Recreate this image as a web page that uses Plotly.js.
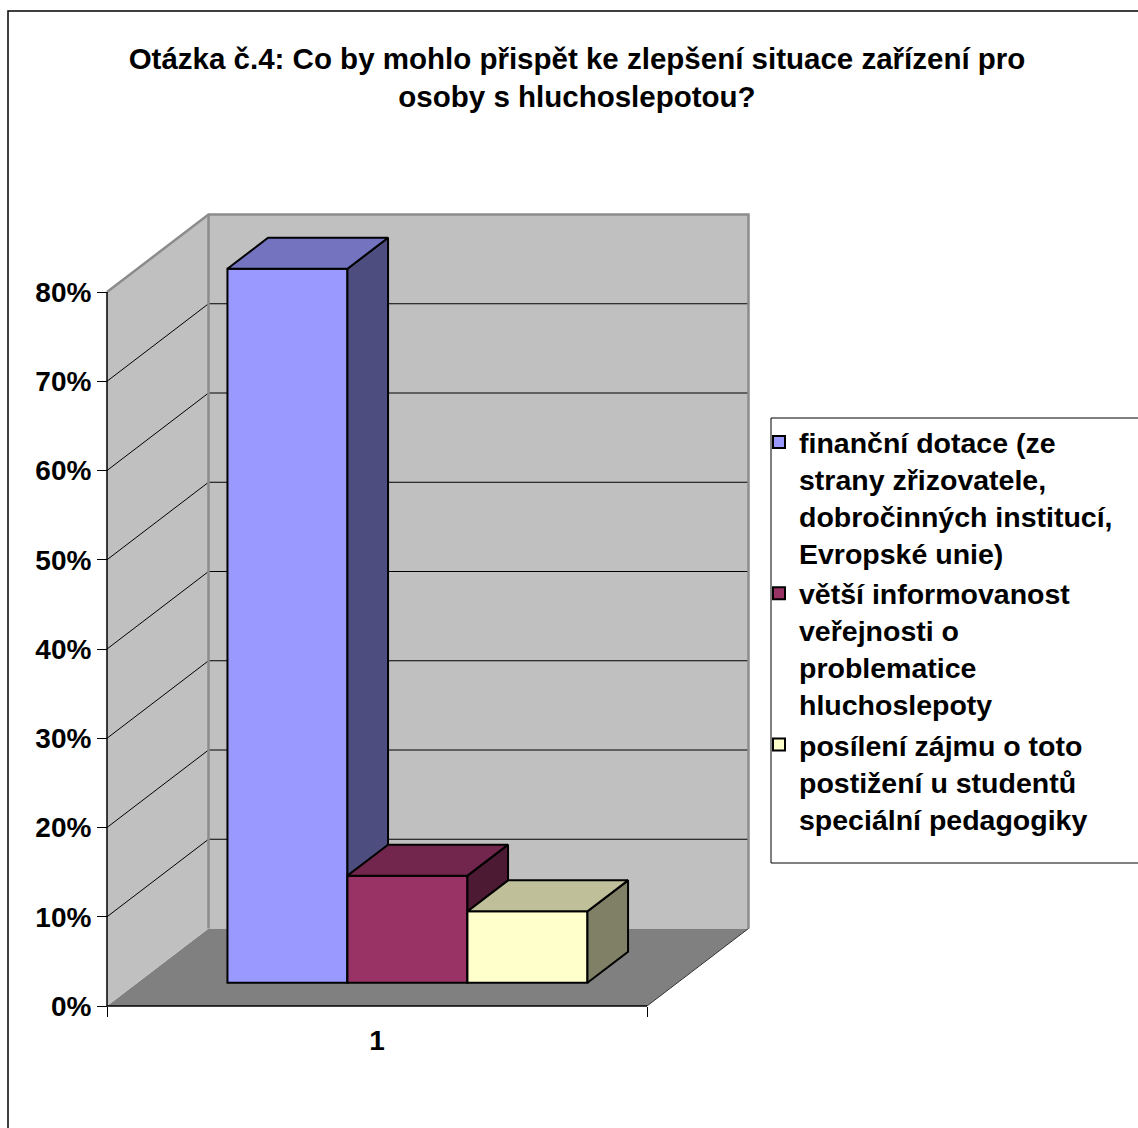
<!DOCTYPE html>
<html>
<head>
<meta charset="utf-8">
<script src="https://cdn.plot.ly/plotly-3.0.1.min.js"></script>
<style>
  html, body { margin: 0; padding: 0; background: #fff; }
  #chart { width: 1138px; height: 1128px; }
</style>
</head>
<body>
<div id="chart"></div>
<script>
// ---------- DATA ----------
const categories = ['1'];
const seriesNames = [
  'finanční dotace (ze<br>strany zřizovatele,<br>dobročinných institucí,<br>Evropské unie)',
  'větší informovanost<br>veřejnosti o<br>problematice<br>hluchoslepoty',
  'posílení zájmu o toto<br>postižení u studentů<br>speciální pedagogiky'
];
const seriesValues = [80, 12, 8];           // percent
const yTickVals = [0, 10, 20, 30, 40, 50, 60, 70, 80];
const yTickText = ['0%', '10%', '20%', '30%', '40%', '50%', '60%', '70%', '80%'];
const wallTop = 80;
const titleText = 'Otázka č.4: Co by mohlo přispět ke zlepšení situace zařízení pro<br>osoby s hluchoslepotou?';

// ---------- STYLE ----------
const frontColors = ['#9999FF', '#993366', '#FFFFCC'];
const topColors   = ['#7373BF', '#73264D', '#BFBF99'];
const sideColors  = ['#4D4D80', '#4D1A33', '#808066'];
const FONT = 'Arial, "Liberation Sans", sans-serif';

// ---------- PROJECTION (oblique 3D) ----------
const W = 1138, H = 1128;
const xLeftPx = 107, xRightPx = 647;      // category band on front plane
const y0Px = 1006, y80Px = 292;
const pxPerCat = xRightPx - xLeftPx;
const pxPerPct = (y0Px - y80Px) / 80;
const xRange = [0.5 - xLeftPx / pxPerCat, 0.5 + (W - xLeftPx) / pxPerCat];
const yRange = [-(H - y0Px) / pxPerPct, y0Px / pxPerPct];
const DX = 101.5 / pxPerCat;   // full depth, x (category units)
const DY = 77.5 / pxPerPct;    // full depth, y (percent units)
const nSeries = seriesValues.length;
const barW = 1 / (nSeries + 1.5);          // gap width 150%
const depthFront = 0.3, depthBack = 0.7;   // bar placement in depth

const traces = [];
const noHover = { hoverinfo: 'skip', showlegend: false };

// floor
traces.push(Object.assign({
  type: 'scatter', mode: 'lines', fill: 'toself', fillcolor: '#808080',
  line: { width: 0 },
  x: [0.5, 1.5, 1.5 + DX, 0.5 + DX, 0.5],
  y: [0, 0, DY, DY, 0]
}, noHover));
// left wall
traces.push(Object.assign({
  type: 'scatter', mode: 'lines', fill: 'toself', fillcolor: '#C0C0C0',
  line: { width: 0 },
  x: [0.5, 0.5 + DX, 0.5 + DX, 0.5, 0.5],
  y: [0, DY, wallTop + DY, wallTop, 0]
}, noHover));
// back wall
traces.push(Object.assign({
  type: 'scatter', mode: 'lines', fill: 'toself', fillcolor: '#C0C0C0',
  line: { width: 0 },
  x: [0.5 + DX, 1.5 + DX, 1.5 + DX, 0.5 + DX, 0.5 + DX],
  y: [DY, DY, wallTop + DY, wallTop + DY, DY]
}, noHover));
// gridlines
const gx = [], gy = [];
yTickVals.forEach(v => {
  if (v === 0 || v === wallTop) return;
  gx.push(0.5, 0.5 + DX, 1.5 + DX, null);
  gy.push(v, v + DY, v + DY, null);
});
traces.push(Object.assign({
  type: 'scatter', mode: 'lines', x: gx, y: gy,
  line: { color: '#000', width: 1 }
}, noHover));
// wall edges (gray)
traces.push(Object.assign({
  type: 'scatter', mode: 'lines',
  x: [0.5, 0.5 + DX, 1.5 + DX, 1.5 + DX, null, 0.5 + DX, 0.5 + DX],
  y: [wallTop, wallTop + DY, wallTop + DY, DY, null, wallTop + DY, DY],
  line: { color: '#8C8C8C', width: 2.5 }
}, noHover));
// floor right edge
traces.push(Object.assign({
  type: 'scatter', mode: 'lines',
  x: [1.5, 1.5 + DX], y: [0, DY],
  line: { color: '#333', width: 1 }
}, noHover));
// axis lines
traces.push(Object.assign({
  type: 'scatter', mode: 'lines',
  x: [0.5, 0.5, null, 0.5, 1.5],
  y: [wallTop, 0, null, 0, 0],
  line: { color: '#000', width: 1.5 }
}, noHover));

// bars, each series on its own overlaid subplot (drawn back-to-front order)
const baseY = depthFront * DY;
const bdx = (depthBack - depthFront) * DX;
const bdy = (depthBack - depthFront) * DY;
seriesValues.forEach((v, i) => {
  const xa = 'x' + (i + 2), ya = 'y' + (i + 2);
  const xl = 0.5 + 0.75 * barW + i * barW + depthFront * DX;
  const xr = xl + barW;
  const top = v + baseY;
  traces.push({
    type: 'bar', x: [(xl + xr) / 2], y: [v], base: [baseY], width: [barW],
    name: seriesNames[i], xaxis: xa, yaxis: ya,
    marker: { color: frontColors[i], line: { color: '#000', width: 2 } },
    hovertemplate: categories[0] + ': ' + v + '%<extra></extra>'
  });
  // side face
  traces.push(Object.assign({
    type: 'scatter', mode: 'lines', fill: 'toself', fillcolor: sideColors[i],
    xaxis: xa, yaxis: ya,
    x: [xr, xr + bdx, xr + bdx, xr, xr],
    y: [baseY, baseY + bdy, top + bdy, top, baseY],
    line: { color: '#000', width: 2 }
  }, noHover));
  // top face
  traces.push(Object.assign({
    type: 'scatter', mode: 'lines', fill: 'toself', fillcolor: topColors[i],
    xaxis: xa, yaxis: ya,
    x: [xl, xr, xr + bdx, xl + bdx, xl],
    y: [top, top, top + bdy, top + bdy, top],
    line: { color: '#000', width: 2 }
  }, noHover));
});

const hiddenX = () => ({ overlaying: 'x', range: xRange, visible: false, fixedrange: true });
const hiddenY = () => ({ overlaying: 'y', range: yRange, visible: false, fixedrange: true });

const layout = {
  width: W, height: H,
  margin: { l: 0, r: 0, t: 0, b: 0, autoexpand: false },
  paper_bgcolor: '#fff', plot_bgcolor: 'rgba(0,0,0,0)',
  barmode: 'overlay',
  font: { family: FONT, color: '#000' },
  title: {
    text: titleText,
    x: 577 / W, xanchor: 'center', xref: 'paper',
    y: 1 - 69 / H, yanchor: 'top', yref: 'container',
    font: { family: FONT, size: 29.5, weight: 'bold', color: '#000' }
  },
  xaxis: {
    range: xRange, fixedrange: true,
    anchor: 'free', position: (H - y0Px) / H,
    showgrid: false, zeroline: false, showline: false,
    tickmode: 'array', tickvals: [1], ticktext: categories, ticks: '',
    tickfont: { family: FONT, size: 28, weight: 'bold', color: '#000' },
    ticklabelstandoff: 15,
    minor: { tickmode: 'array', tickvals: [0.5, 1.5], ticks: 'outside', ticklen: 10, tickwidth: 1, tickcolor: '#000', showgrid: false }
  },
  yaxis: {
    range: yRange, fixedrange: true,
    anchor: 'free', position: xLeftPx / W, side: 'left',
    showgrid: false, zeroline: false, showline: false,
    tickmode: 'array', tickvals: yTickVals, ticktext: yTickText,
    ticks: 'outside', ticklen: 10, tickwidth: 1, tickcolor: '#000',
    tickfont: { family: FONT, size: 28, weight: 'bold', color: '#000' },
    automargin: false
  },
  xaxis2: hiddenX(), yaxis2: hiddenY(),
  xaxis3: hiddenX(), yaxis3: hiddenY(),
  xaxis4: hiddenX(), yaxis4: hiddenY(),
  showlegend: true,
  legend: {
    x: 759 / W, xanchor: 'left', y: 1 - 417 / H, yanchor: 'top',
    xref: 'paper', yref: 'paper',
    bgcolor: 'rgba(0,0,0,0)', borderwidth: 0,
    font: { family: FONT, size: 28.5, weight: 'bold', color: '#000' },
    valign: 'top', traceorder: 'normal', itemclick: false, itemdoubleclick: false
  },
  shapes: [
    // outer chart border
    { type: 'rect', xref: 'paper', yref: 'paper', x0: 8 / W, x1: 1.05, y0: -0.05, y1: 1 - 11 / H,
      line: { color: '#000', width: 1.5 }, fillcolor: 'rgba(0,0,0,0)', layer: 'below' },
    // legend box
    { type: 'rect', xref: 'paper', yref: 'paper', x0: 771 / W, x1: 1.05, y0: 1 - 863 / H, y1: 1 - 418 / H,
      line: { color: '#000', width: 1 }, fillcolor: '#fff', layer: 'above' }
  ]
};

Plotly.newPlot('chart', traces, layout, { staticPlot: true, displayModeBar: false });
</script>
</body>
</html>
